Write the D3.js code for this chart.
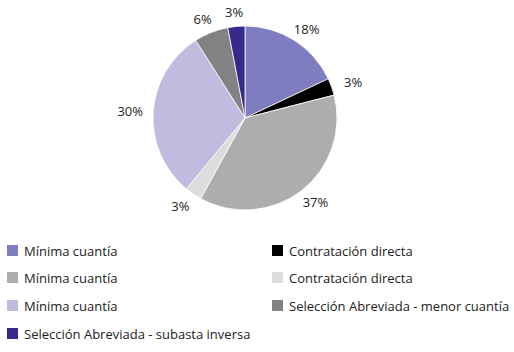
<!DOCTYPE html>
<html>
<head>
<meta charset="utf-8">
<script src="https://cdn.jsdelivr.net/npm/d3@7"></script>
<style>
  body { margin: 0; background: #fff; }
  svg { display: block; font-family: 'Open Sans', sans-serif; }
</style>
</head>
<body>
<div id="wrapper"></div>
<script>
const categories = [
    'Mínima cuantía',
    'Contratación directa',
    'Mínima cuantía',
    'Contratación directa',
    'Mínima cuantía',
    'Selección Abreviada - menor cuantía',
    'Selección Abreviada - subasta inversa'
]
const values = [18, 3, 37, 3, 30, 6, 3]
const colors = ['#7d7dc0', '#000000', '#adadad', '#dcdcdc', '#c3bbdf', '#828282', '#35298a']

const dms = { width: 514, height: 352, cx: 245, cy: 118, radius: 92 }

const svg = d3.select('#wrapper')
    .append('svg')
    .attr('width', dms.width)
    .attr('height', dms.height)

const data = values.map((v, i) => ({ value: v, label: categories[i], color: colors[i] }))

const pie = d3.pie()
    .value(d => d.value)
    .sort(null)
const arcs = pie(data)

const arc = d3.arc()
    .innerRadius(0)
    .outerRadius(dms.radius)

const bounds = svg.append('g')
    .attr('transform', `translate(${dms.cx}, ${dms.cy})`)

bounds.selectAll('path')
    .data(arcs)
    .join('path')
    .attr('d', arc)
    .attr('fill', d => d.data.color)
    .attr('stroke', '#fff')
    .attr('stroke-width', 0.8)

// percent labels outside the pie
const labelR = 106
bounds.selectAll('text.pct')
    .data(arcs)
    .join('text')
    .attr('class', 'pct')
    .attr('x', d => {
        const a = (d.startAngle + d.endAngle) / 2
        return Math.sin(a) * labelR + Math.sin(a) * 9
    })
    .attr('y', d => {
        const a = (d.startAngle + d.endAngle) / 2
        return -Math.cos(a) * labelR + 5
    })
    .attr('text-anchor', 'middle')
    .style('font-size', '13px')
    .attr('fill', '#222')
    .text(d => d.data.value + '%')

// legend, two columns, row-major
const legend = svg.append('g')
const colX = [7, 272]
const rowY = [251, 278, 306, 334]
const items = legend.selectAll('g')
    .data(data)
    .join('g')
    .attr('transform', (d, i) => `translate(${colX[i % 2]}, ${rowY[Math.floor(i / 2)]})`)

items.append('rect')
    .attr('x', 0)
    .attr('y', -6)
    .attr('width', 11)
    .attr('height', 11)
    .attr('fill', d => d.color)

items.append('text')
    .attr('x', 17)
    .attr('y', 5)
    .style('font-size', '13px')
    .attr('fill', '#222')
    .text(d => d.label)
</script>
</body>
</html>
